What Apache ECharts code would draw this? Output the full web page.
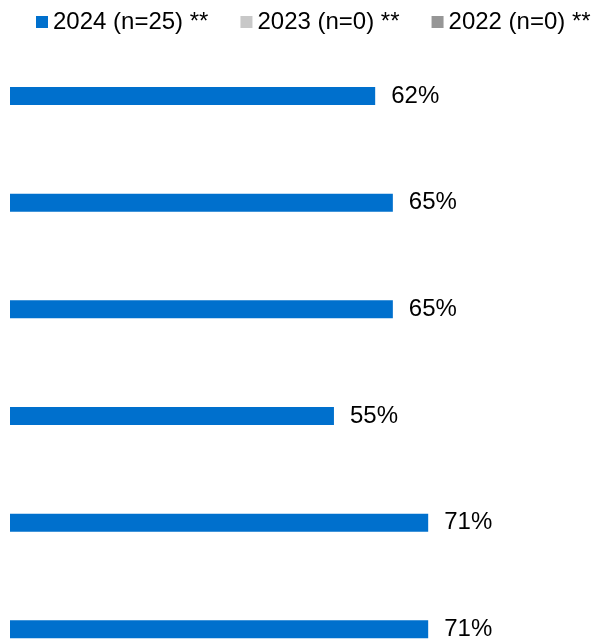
<!DOCTYPE html>
<html>
<head>
<meta charset="utf-8">
<script src="https://cdn.jsdelivr.net/npm/echarts@6/dist/echarts.min.js"></script>
<style>
html,body{margin:0;padding:0;background:#fff;}
#chart{width:612px;height:642px;}
</style>
</head>
<body>
<div id="chart"></div>
<script>
var categories = ['Item 1', 'Item 2', 'Item 3', 'Item 4', 'Item 5', 'Item 6'];
var seriesNames = ['2024 (n=25) **', '2023 (n=0) **', '2022 (n=0) **'];
var values2024 = [62, 65, 65, 55, 71, 71];
var values2023 = [];
var values2022 = [];

var FONT = "Arial, 'Liberation Sans', sans-serif";
var chart = echarts.init(document.getElementById('chart'), null, {renderer: 'canvas'});
chart.setOption({
  animation: false,
  backgroundColor: '#ffffff',
  legend: {
    data: seriesNames,
    left: 31,
    top: 5,
    itemWidth: 12,
    itemHeight: 12,
    itemGap: 32,
    icon: 'rect',
    textStyle: {fontFamily: FONT, fontSize: 24, color: '#000'}
  },
  grid: {left: 10, right: 13, top: 24.7, height: 640, containLabel: false, outerBoundsMode: 'none'},
  xAxis: {type: 'value', min: 0, max: 100, show: false},
  yAxis: {type: 'category', data: categories, inverse: true, show: false},
  series: [
    {name: seriesNames[1], type: 'bar', data: values2023, barWidth: 18, barGap: '0%', itemStyle: {color: '#c8c8c8'}},
    {name: seriesNames[2], type: 'bar', data: values2022, barWidth: 18, barGap: '0%', itemStyle: {color: '#969696'}},
    {name: seriesNames[0], type: 'bar', data: values2024, barWidth: 18, barGap: '0%',
      itemStyle: {color: '#0070cd'},
      label: {show: true, position: 'right', distance: 16, formatter: '{c}%',
        fontFamily: FONT, fontSize: 24, color: '#000'}}
  ]
});
</script>
</body>
</html>
